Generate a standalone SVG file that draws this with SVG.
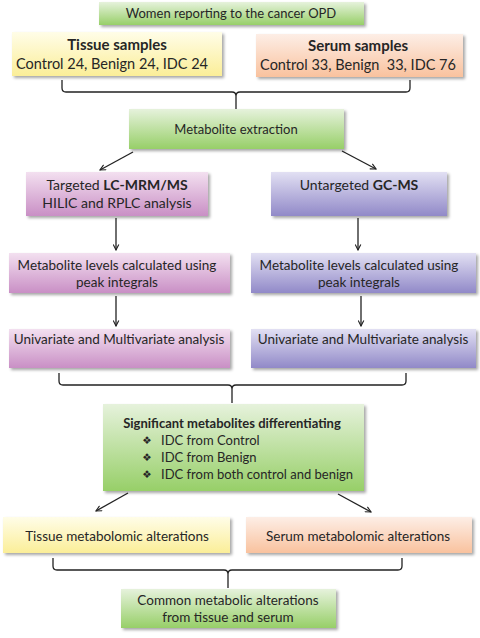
<svg xmlns="http://www.w3.org/2000/svg" width="480" height="638" viewBox="0 0 480 638">
<defs>
<linearGradient id="gGreen" x1="0" y1="0" x2="0" y2="1"><stop offset="0" stop-color="#e6f2dc"/><stop offset="1" stop-color="#97cf68"/></linearGradient>
<linearGradient id="gYellow" x1="0" y1="0" x2="0" y2="1"><stop offset="0" stop-color="#fffde8"/><stop offset="1" stop-color="#fbee98"/></linearGradient>
<linearGradient id="gOrange" x1="0" y1="0" x2="0" y2="1"><stop offset="0" stop-color="#fdeee6"/><stop offset="1" stop-color="#f9c29e"/></linearGradient>
<linearGradient id="gPink" x1="0" y1="0" x2="0" y2="1"><stop offset="0" stop-color="#f3e0f0"/><stop offset="1" stop-color="#c98fc5"/></linearGradient>
<linearGradient id="gPurple" x1="0" y1="0" x2="0" y2="1"><stop offset="0" stop-color="#e2e0f3"/><stop offset="1" stop-color="#9189c8"/></linearGradient>
<filter id="sh" x="-10%" y="-20%" width="120%" height="150%"><feDropShadow dx="2" dy="2" stdDeviation="1.5" flood-color="#000" flood-opacity="0.35"/></filter>
<marker id="ah" viewBox="0 0 10 10" refX="9" refY="5" markerWidth="7" markerHeight="7" orient="auto" markerUnits="userSpaceOnUse"><path d="M1,1 L9,5 L1,9" fill="none" stroke="#222" stroke-width="1.6"/></marker>
</defs>
<style>
text{font-family:Lato,"Open Sans","Liberation Sans",sans-serif;fill:#262626;text-anchor:middle}
.b{font-weight:bold}
.box{filter:url(#sh)}
.con{fill:none;stroke:#222;stroke-width:1.3}
.arr{fill:none;stroke:#222;stroke-width:1.3;marker-end:url(#ah)}
.bul{font-family:"DejaVu Sans",sans-serif;font-size:10.5px}
</style>
<g id="n_women"><rect class="box" x="99" y="2" width="265" height="23" fill="url(#gGreen)"/><text x="231" y="18" font-size="13">Women reporting to the cancer OPD</text></g>
<g id="n_tissue"><rect class="box" x="12" y="32" width="210" height="44" fill="url(#gYellow)"/><text x="117" y="50" font-size="15" class="b">Tissue samples</text><text x="112" y="69" font-size="14.5">Control 24, Benign 24, IDC 24</text></g>
<g id="n_serum"><rect class="box" x="256" y="34" width="207" height="43" fill="url(#gOrange)"/><text x="358" y="51" font-size="15" class="b">Serum samples</text><text x="358" y="70" font-size="14.5" xml:space="preserve">Control 33, Benign  33, IDC 76</text></g>
<g id="n_extract"><rect class="box" x="129" y="109" width="215" height="40" fill="url(#gGreen)"/><text x="236" y="134" font-size="13">Metabolite extraction</text></g>
<g id="n_lc"><rect class="box" x="26" y="172" width="182" height="44" fill="url(#gPink)"/><text x="117" y="190" font-size="14">Targeted <tspan class="b">LC-MRM/MS</tspan></text><text x="117" y="208" font-size="14">HILIC and RPLC analysis</text></g>
<g id="n_gc"><rect class="box" x="271" y="172" width="176" height="44" fill="url(#gPurple)"/><text x="359" y="190" font-size="14">Untargeted <tspan class="b">GC-MS</tspan></text></g>
<g id="n_lvl_l"><rect class="box" x="9" y="253" width="221" height="40" fill="url(#gPink)"/><text x="117" y="270" font-size="13.5">Metabolite levels calculated using</text><text x="117" y="287" font-size="13.5">peak integrals</text></g>
<g id="n_lvl_r"><rect class="box" x="251" y="253" width="225" height="40" fill="url(#gPurple)"/><text x="359" y="270" font-size="13.5">Metabolite levels calculated using</text><text x="359" y="287" font-size="13.5">peak integrals</text></g>
<g id="n_uni_l"><rect class="box" x="9" y="329" width="221" height="39" fill="url(#gPink)"/><text x="119" y="344" font-size="13.5">Univariate and Multivariate analysis</text></g>
<g id="n_uni_r"><rect class="box" x="251" y="329" width="225" height="39" fill="url(#gPurple)"/><text x="363" y="344" font-size="13.5">Univariate and Multivariate analysis</text></g>
<g id="n_sig"><rect class="box" x="103" y="404" width="261" height="87" fill="url(#gGreen)"/>
<text x="232" y="428" font-size="13" class="b">Significant metabolites differentiating</text>
<text x="147" y="444" class="bul">❖</text><text x="161" y="445" font-size="13" style="text-anchor:start">IDC from Control</text>
<text x="147" y="461" class="bul">❖</text><text x="161" y="462" font-size="13" style="text-anchor:start">IDC from Benign</text>
<text x="147" y="478" class="bul">❖</text><text x="161" y="479" font-size="13" style="text-anchor:start">IDC from both control and benign</text></g>
<g id="n_talt"><rect class="box" x="3" y="517" width="227" height="36" fill="url(#gYellow)"/><text x="117" y="541" font-size="13.5">Tissue metabolomic alterations</text></g>
<g id="n_salt"><rect class="box" x="246" y="517" width="226" height="36" fill="url(#gOrange)"/><text x="358" y="541" font-size="13.5">Serum metabolomic alterations</text></g>
<g id="n_common"><rect class="box" x="121" y="589" width="215" height="39" fill="url(#gGreen)"/><text x="228" y="605" font-size="13.5">Common metabolic alterations</text><text x="228" y="622" font-size="13.5">from tissue and serum</text></g>
<g id="connectors">
<path class="con" d="M62,80 V88 Q62,92 66,92 H232 Q236,92 236,96 V109 M236,96 Q236,92 240,92 H406 Q410,92 410,88 V80"/>
<path class="arr" d="M133,152 L100,170"/>
<path class="arr" d="M342,151 L376,169"/>
<path class="arr" d="M116,218 V250"/>
<path class="arr" d="M358,218 V250"/>
<path class="arr" d="M116,296 V326"/>
<path class="arr" d="M361,296 V326"/>
<path class="con" d="M59,373 V381 Q59,385 63,385 H228 Q232,385 232,389 V403 M232,389 Q232,385 236,385 H402 Q406,385 406,381 V373"/>
<path class="arr" d="M128,493 L96,511"/>
<path class="arr" d="M338,494 L371,512"/>
<path class="con" d="M53,558 V566 Q53,570 57,570 H224 Q228,570 228,574 V588 M228,574 Q228,570 232,570 H398 Q402,570 402,566 V558"/>
</g>
</svg>
